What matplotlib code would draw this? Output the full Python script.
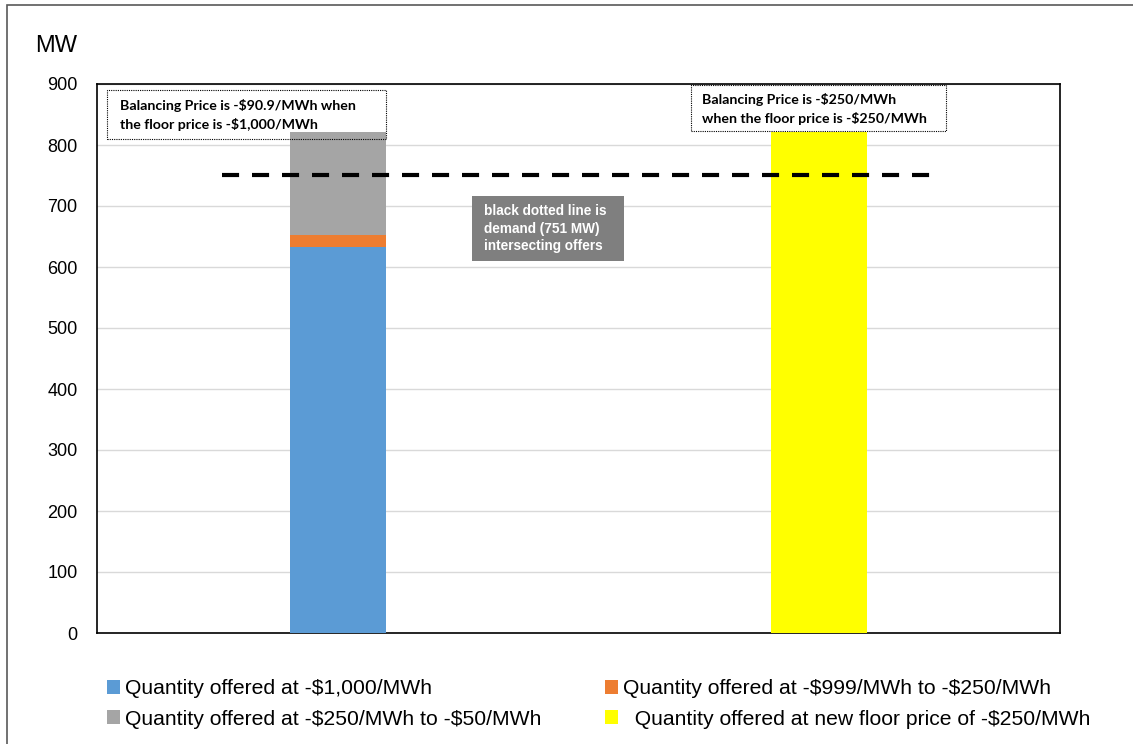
import matplotlib
matplotlib.use("Agg")
import matplotlib.pyplot as plt
from matplotlib.patches import Rectangle

plt.rcParams['font.family'] = ['Liberation Sans', 'DejaVu Sans']
plt.rcParams['text.parse_math'] = False

categories = ["Floor -$1,000/MWh", "Floor -$250/MWh"]
offered_1000 = [633, 0]
offered_999_250 = [19, 0]
offered_250_50 = [169, 0]
offered_new_floor = [0, 822]
demand_mw = 751
yticks = [0, 100, 200, 300, 400, 500, 600, 700, 800, 900]

legend_labels = [
    "Quantity offered at -$1,000/MWh",
    "Quantity offered at -$999/MWh to -$250/MWh",
    "Quantity offered at -$250/MWh to -$50/MWh",
    "  Quantity offered at new floor price of -$250/MWh",
]
colors = ["#5B9BD5", "#ED7D31", "#A5A5A5", "#FFFF00"]

fig = plt.figure(figsize=(11.33, 7.44), dpi=100)
ax = fig.add_axes([97/1133, 1-633/744, (1060-97)/1133, (633-84)/744])

x = list(range(len(categories)))
w = 0.2
b1 = ax.bar(x, offered_1000, w, color=colors[0], zorder=3)
bot = offered_1000
b2 = ax.bar(x, offered_999_250, w, bottom=bot, color=colors[1], zorder=3)
bot2 = [a + b for a, b in zip(bot, offered_999_250)]
b3 = ax.bar(x, offered_250_50, w, bottom=bot2, color=colors[2], zorder=3)
b4 = ax.bar(x, offered_new_floor, w, color=colors[3], zorder=3)

ax.plot([-0.24, 1.247], [demand_mw, demand_mw], color="black", lw=3.0,
        dashes=(4.1, 3.1), zorder=4, dash_capstyle='butt')

ax.set_xlim(-0.5, 1.5)
ax.set_ylim(0, 900)
ax.set_yticks(yticks)
ax.set_yticklabels([str(t) for t in yticks], fontsize=13)
ax.set_xticks([])
ax.tick_params(axis='y', length=0, pad=14)
ax.yaxis.grid(True, color="#D9D9D9", lw=1, zorder=0)
for s in ax.spines.values():
    s.set_color("black")
    s.set_linewidth(1.2)

# annotation boxes
bold_font = ['Lato', 'DejaVu Sans']
ax.add_patch(Rectangle((-0.479, 810), 0.58, 80, fill=False, ls=(0, (1, 1)), lw=0.8,
                       edgecolor='black', zorder=5, clip_on=False))
ax.text(-0.452, 849, "Balancing Price is -$90.9/MWh when\nthe floor price is -$1,000/MWh",
        fontsize=10.2, fontweight='bold', family=bold_font, va='center', ha='left',
        linespacing=1.5, zorder=6)
ax.add_patch(Rectangle((0.734, 823), 0.529, 75, fill=False, ls=(0, (1, 1)), lw=0.8,
                       edgecolor='black', zorder=5, clip_on=False))
ax.text(0.757, 859, "Balancing Price is -$250/MWh\nwhen the floor price is -$250/MWh",
        fontsize=10.2, fontweight='bold', family=bold_font, va='center', ha='left',
        linespacing=1.5, zorder=6)

ax.add_patch(Rectangle((0.279, 610), 0.315, 106, facecolor='#7F7F7F', edgecolor='none', zorder=5))
ax.text(0.304, 663, "black dotted line is\ndemand (751 MW)\nintersecting offers",
        fontsize=9.8, fontweight='bold', color='white', va='center', ha='left',
        linespacing=1.35, zorder=6)

fig.text(35/1133, 1-46/744, "MW", fontsize=17, va='center', ha='left')

# outer border
fig.add_artist(Rectangle((7/1133, -0.05), 1.1, 1-5/744+0.05, transform=fig.transFigure,
                         fill=False, edgecolor='#595959', lw=1.2))

legkw = dict(loc='upper left', frameon=False, fontsize=15.2, handlelength=0.6,
             handleheight=0.65, handletextpad=0.25, labelspacing=0.55,
             borderaxespad=0, borderpad=0)
fig.legend([b1, b3], [legend_labels[0], legend_labels[2]],
           bbox_to_anchor=(107/1133, 1-679/744), **legkw)
fig.legend([b2, b4], [legend_labels[1], legend_labels[3]],
           bbox_to_anchor=(605/1133, 1-679/744), **legkw)

fig.savefig("out.png", dpi=100)
